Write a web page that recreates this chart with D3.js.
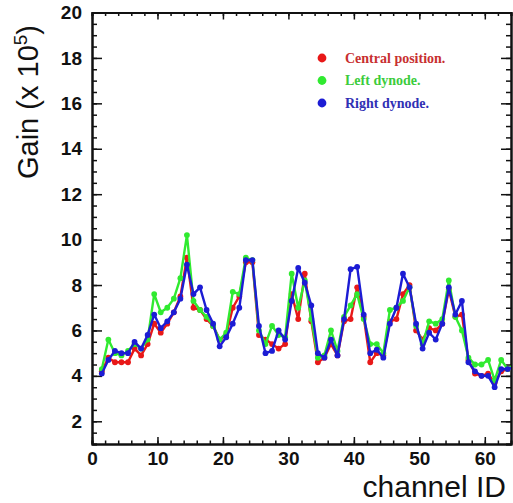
<!DOCTYPE html>
<html>
<head>
<meta charset="utf-8">
<script src="https://cdn.jsdelivr.net/npm/d3@7"></script>
<style>
  html, body { margin: 0; padding: 0; background: #fff; }
  svg { display: block; }
  .tick text { font-family: "Liberation Sans", Arial, sans-serif; font-weight: bold; font-size: 19px; fill: #111; }
  .axis path, .axis line { stroke: #111; }
</style>
</head>
<body>
<svg id="chart" width="513" height="503"></svg>
<script>
// Channel numbers 1..64
const channels = d3.range(1, 65);

// Gain per channel (units of 10^5)
const centralGain = [
  4.2, 4.8, 4.6, 4.6, 4.6, 5.2, 4.9, 5.4, 6.3, 5.9,
  6.3, 6.8, 7.5, 9.2, 7.0, 6.9, 6.5, 6.2, 5.6, 5.8,
  7.0, 7.5, 9.0, 9.0, 5.8, 5.6, 5.4, 5.2, 5.4, 7.6,
  6.5, 8.5, 6.4, 4.6, 4.8, 5.4, 4.9, 6.4, 6.5, 7.9,
  6.6, 4.6, 5.0, 4.9, 6.4, 6.5, 7.6, 8.0, 6.0, 5.6,
  6.1, 6.0, 6.3, 7.8, 6.6, 6.7, 4.7, 4.1, 4.0, 4.1,
  3.7, 4.2, 4.3, 4.4
];
const leftGain = [
  4.3, 5.6, 5.0, 4.9, 5.1, 5.4, 5.2, 5.6, 7.6, 6.8,
  7.0, 7.4, 8.3, 10.2, 7.3, 6.9, 6.6, 6.2, 5.6, 5.9,
  7.7, 7.6, 9.2, 9.1, 6.0, 5.4, 6.2, 5.8, 5.7, 8.5,
  7.0, 8.2, 6.5, 4.8, 4.9, 6.0, 5.1, 6.6, 7.1, 7.6,
  6.5, 5.4, 5.4, 5.0, 6.9, 7.0, 7.3, 7.9, 6.2, 5.4,
  6.4, 6.3, 6.5, 8.2, 6.6, 6.0, 4.8, 4.5, 4.5, 4.7,
  3.8, 4.7, 4.3, 4.5
];
const rightGain = [
  4.1, 4.7, 5.1, 5.0, 5.0, 5.5, 5.2, 5.8, 6.7, 6.1,
  6.4, 6.8, 7.4, 8.9, 7.6, 7.9, 6.9, 6.3, 5.3, 5.7,
  6.3, 7.0, 9.1, 9.1, 6.2, 5.0, 5.1, 6.0, 5.6, 7.3,
  8.75, 8.1, 7.1, 5.0, 4.8, 5.6, 4.9, 6.5, 8.7, 8.8,
  6.7, 5.0, 5.15, 4.8, 6.3, 7.0, 8.5, 7.9, 6.3, 5.2,
  5.9, 5.6, 6.3, 7.9, 6.7, 7.3, 4.6, 4.2, 4.0, 4.0,
  3.5, 4.3, 4.3, 4.4
];

const seriesNames = ["Central position.", "Left dynode.", "Right dynode."];
const seriesValues = [centralGain, leftGain, rightGain];
const lineColors = ["#e81818", "#30ea30", "#1c1cd4"];
const textColors = ["#c83030", "#3ccc3c", "#3030b4"];

// Axis ticks
const xMajor = [0, 10, 20, 30, 40, 50, 60];
const xMinor = d3.range(0, 65, 2);
const yMajor = [2, 4, 6, 8, 10, 12, 14, 16, 18, 20];
const yMinor = d3.range(1, 20.01, 0.5);

const svg = d3.select("#chart");
const frameLeft = 92, frameRight = 511, frameTop = 12.5, frameBottom = 444;

const x = d3.scaleLinear().domain([0, 64]).range([frameLeft, frameRight]);
const y = d3.scaleLinear().domain([1, 20]).range([frameBottom, frameTop]);

svg.append("defs").append("clipPath").attr("id", "plot-clip")
  .append("rect").attr("x", frameLeft).attr("y", frameTop)
  .attr("width", frameRight - frameLeft).attr("height", frameBottom - frameTop);

// Frame axes: labels on left/bottom, mirrored ticks on right/top
function drawAxis(gen, transform, cls) {
  const g = svg.append("g").attr("class", "axis " + cls).attr("transform", transform).call(gen);
  g.select(".domain").attr("stroke-width", 2);
  g.selectAll(".tick line").attr("stroke-width", 1.5);
  return g;
}

drawAxis(d3.axisLeft(y).tickValues(yMinor).tickSize(-5).tickFormat(""), `translate(${frameLeft},0)`, "minor");
drawAxis(d3.axisLeft(y).tickValues(yMajor).tickSizeInner(-10).tickSizeOuter(0).tickPadding(10).tickFormat(d3.format("d")), `translate(${frameLeft},0)`, "major");
drawAxis(d3.axisRight(y).tickValues(yMinor).tickSize(-5).tickFormat(""), `translate(${frameRight},0)`, "minor");
drawAxis(d3.axisRight(y).tickValues(yMajor).tickSizeInner(-10).tickSizeOuter(0).tickFormat(""), `translate(${frameRight},0)`, "major");

drawAxis(d3.axisBottom(x).tickValues(xMinor).tickSize(-3.5).tickFormat(""), `translate(0,${frameBottom})`, "minor");
drawAxis(d3.axisBottom(x).tickValues(xMajor).tickSizeInner(-7).tickSizeOuter(0).tickPadding(8).tickFormat(d3.format("d")), `translate(0,${frameBottom})`, "major");
drawAxis(d3.axisTop(x).tickValues(xMinor).tickSize(-3.5).tickFormat(""), `translate(0,${frameTop})`, "minor");
drawAxis(d3.axisTop(x).tickValues(xMajor).tickSizeInner(-7).tickSizeOuter(0).tickFormat(""), `translate(0,${frameTop})`, "major");

// Series: each channel drawn at its bin centre
const plot = svg.append("g").attr("clip-path", "url(#plot-clip)");
const line = d3.line().x(d => x(d.ch + 0.5)).y(d => y(d.v));

seriesValues.forEach((vals, i) => {
  const pts = channels.map((ch, k) => ({ ch, v: vals[k] }));
  plot.append("path").datum(pts)
    .attr("fill", "none").attr("stroke", lineColors[i])
    .attr("stroke-width", 2.4).attr("stroke-linejoin", "round")
    .attr("d", line);
  plot.selectAll(null).data(pts).enter().append("circle")
    .attr("cx", d => x(d.ch + 0.5)).attr("cy", d => y(d.v))
    .attr("r", 2.9).attr("fill", lineColors[i]);
});

// Legend
const legend = svg.append("g");
seriesNames.forEach((name, i) => {
  const ly = 58 + i * 22.5;
  legend.append("circle").attr("cx", 322).attr("cy", ly).attr("r", 4.4).attr("fill", lineColors[i]);
  legend.append("text").attr("x", 345).attr("y", ly + 4.5)
    .attr("font-family", "'Liberation Serif', 'Times New Roman', serif")
    .attr("font-weight", "bold").attr("font-size", 14)
    .attr("fill", textColors[i]).text(name);
});

// Axis titles
svg.append("text")
  .attr("transform", "translate(38,102) rotate(-90)")
  .attr("text-anchor", "middle")
  .attr("font-family", "'Liberation Sans', Arial, sans-serif")
  .attr("font-size", 29).attr("fill", "#111")
  .call(t => {
    t.append("tspan").text("Gain (x 10");
    t.append("tspan").attr("dy", -11).attr("font-size", 19).text("5");
    t.append("tspan").attr("dy", 11).text(")");
  });

svg.append("text")
  .attr("x", 506).attr("y", 497)
  .attr("text-anchor", "end")
  .attr("font-family", "'Liberation Sans', Arial, sans-serif")
  .attr("font-size", 30).attr("fill", "#111")
  .text("channel ID");
</script>
</body>
</html>
